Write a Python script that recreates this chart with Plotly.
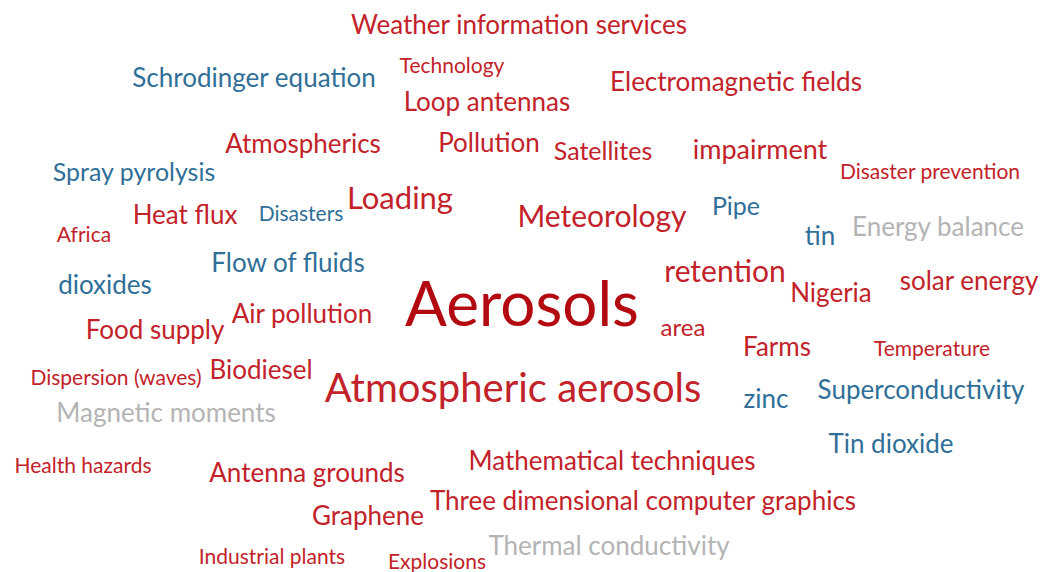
import plotly.graph_objects as go

words = [
    "Weather information services", "Technology", "Schrodinger equation", "Electromagnetic fields",
    "Loop antennas", "Atmospherics", "Pollution", "Satellites", "impairment", "Disaster prevention",
    "Spray pyrolysis", "Loading", "Heat flux", "Disasters", "Meteorology", "Pipe", "tin",
    "Energy balance", "Africa", "Flow of fluids", "retention", "solar energy", "dioxides", "Nigeria",
    "Aerosols", "Air pollution", "area", "Food supply", "Farms", "Temperature", "Biodiesel",
    "Dispersion (waves)", "Atmospheric aerosols", "zinc", "Superconductivity", "Magnetic moments",
    "Tin dioxide", "Health hazards", "Antenna grounds", "Mathematical techniques",
    "Three dimensional computer graphics", "Graphene", "Industrial plants", "Explosions",
    "Thermal conductivity",
]
word_x = [519, 452, 254, 736, 487, 303, 489, 603, 760, 930, 134, 400, 185, 301, 602, 736, 820,
          938, 84, 288, 725, 969, 105, 831, 522, 302, 683, 155, 777, 932, 261, 116, 513, 766,
          921, 166, 891, 83, 307, 612, 643, 368, 272, 437, 609]
word_y = [24, 65, 77, 81, 101, 143, 142, 151, 149, 171, 172, 198, 214, 213, 216, 206, 235,
          226, 234, 262, 271, 280, 284, 292, 307, 313, 327, 329, 346, 348, 369, 377, 389, 398,
          389, 412, 443, 465, 472, 460, 500, 515, 556, 561, 545]
word_size = [26, 21, 26, 26, 26, 26, 26, 25, 27, 21, 25, 31, 26, 21, 30, 25, 26,
             26, 21, 26, 30, 26, 26, 26, 62, 26, 24, 26, 26, 21, 26, 21, 40, 26,
             26, 26, 26, 21, 26, 26, 26, 26, 21, 21, 26]
# group: r = red, d = dark red, b = blue, g = grey
word_group = ["r", "r", "b", "r", "r", "r", "r", "r", "r", "r", "b", "r", "r", "b", "r", "b", "b",
              "g", "r", "b", "r", "r", "b", "r", "d", "r", "r", "r", "r", "r", "r", "r", "r", "b",
              "b", "g", "b", "r", "r", "r", "r", "r", "r", "r", "g"]
group_colors = {"r": "#c22229", "d": "#b20a10", "b": "#2f6f98", "g": "#b4b4b4"}

PAGE_W, PAGE_H = 1051, 572
TEXT_DROP = 3  # font baseline correction so word centres land where read

fig = go.Figure(
    go.Scatter(
        x=word_x,
        y=word_y,
        mode="text",
        text=words,
        textposition="middle center",
        textfont=dict(family="Lato", size=word_size,
                      color=[group_colors[g] for g in word_group]),
        hoverinfo="text",
        cliponaxis=False,
    )
)
fig.update_layout(
    width=PAGE_W, height=PAGE_H,
    margin=dict(l=0, r=0, t=0, b=0),
    paper_bgcolor="white", plot_bgcolor="white",
    showlegend=False,
    xaxis=dict(range=[0, PAGE_W], visible=False, fixedrange=True),
    yaxis=dict(range=[PAGE_H - TEXT_DROP, -TEXT_DROP], visible=False, fixedrange=True),
)
fig.write_html(
    "out.html",
    config={"displayModeBar": False},
    post_script="document.body.style.margin='0';document.body.style.overflow='hidden';",
)
